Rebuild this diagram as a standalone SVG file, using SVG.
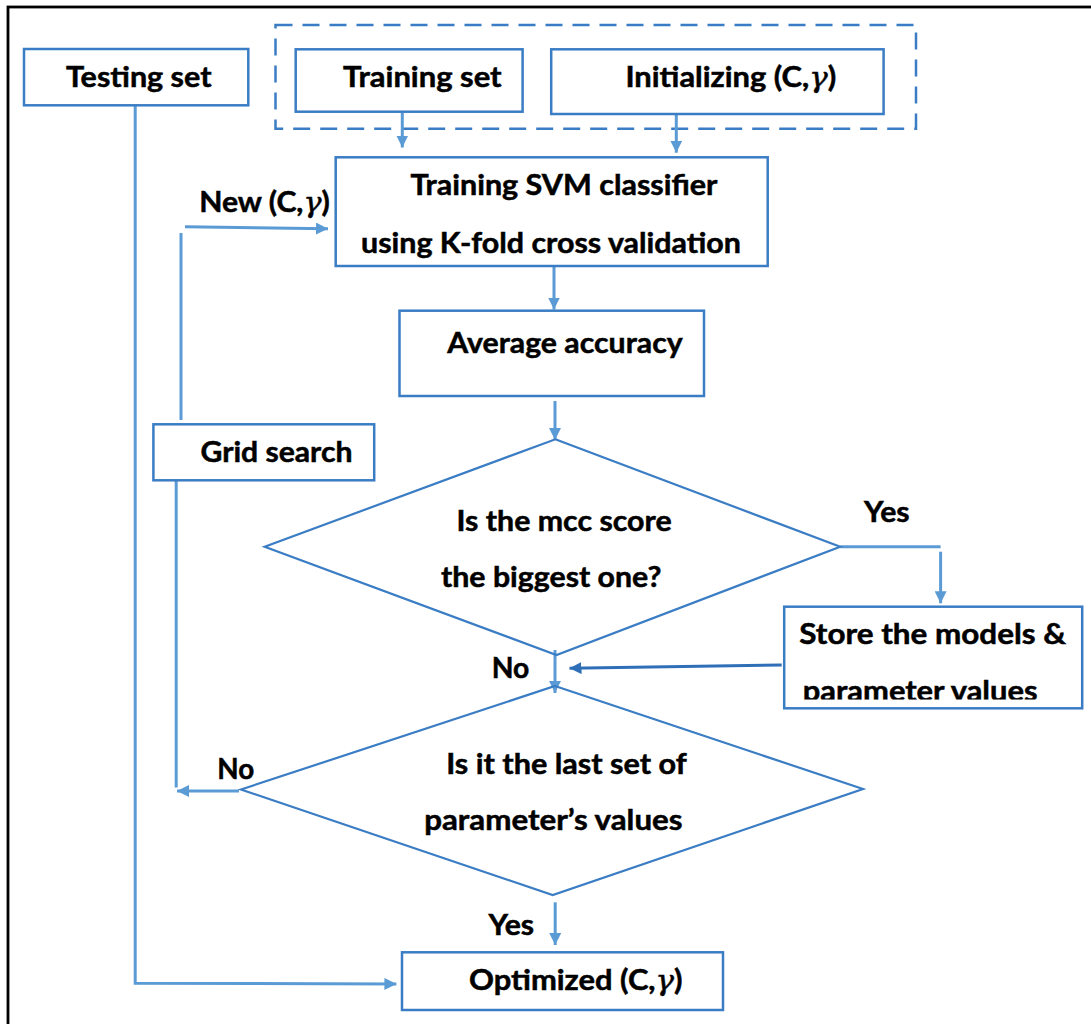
<svg xmlns="http://www.w3.org/2000/svg" width="1091" height="1024" viewBox="0 0 1091 1024">
  <style>
    .box { fill: #ffffff; stroke: #3B7DC4; stroke-width: 2.5; }
    .dia { fill: none; stroke: #3B7DC4; stroke-width: 2.2; stroke-linejoin: miter; }
    .grp { fill: none; stroke: #3B7DC4; stroke-width: 2.5; stroke-dasharray: 17 10; }
    .wire { fill: none; stroke: #5B9BD5; stroke-width: 3; }
    .wire-dark { fill: none; stroke: #2F6FB7; stroke-width: 3; }
    .t { font-family: "Lato", "Liberation Sans", sans-serif; font-weight: bold; font-size: 28.5px; fill: #000000; stroke: #000000; stroke-width: 0.5px; }
    .g { font-family: "DejaVu Serif", "Liberation Serif", serif; font-style: italic; font-weight: normal; }
  </style>
  <defs>
    <marker id="arr" viewBox="0 0 10 10" refX="10" refY="5" markerWidth="12" markerHeight="12" markerUnits="userSpaceOnUse" orient="auto">
      <path d="M0,0 L10,5 L0,10 Z" fill="#5B9BD5"/>
    </marker>
    <marker id="arr-dark" viewBox="0 0 10 10" refX="10" refY="5" markerWidth="12" markerHeight="12" markerUnits="userSpaceOnUse" orient="auto">
      <path d="M0,0 L10,5 L0,10 Z" fill="#2F6FB7"/>
    </marker>
    <clipPath id="storeClip">
      <rect x="784" y="607" width="298" height="92.5"/>
    </clipPath>
  </defs>

  <rect x="0" y="0" width="1091" height="1024" fill="#ffffff"/>
  <!-- page frame -->
  <rect x="8" y="7" width="1100" height="1040" fill="none" stroke="#000000" stroke-width="2.8"/>

  <!-- grouping frame around the training inputs -->
  <rect id="inputs-group" class="grp" x="275.5" y="25" width="640.5" height="103.7"/>

  <!-- connectors -->
  <g id="connectors">
    <path class="wire" d="M402.3,113 V147.5" marker-end="url(#arr)"/>
    <path class="wire" d="M676.3,114 V152.7" marker-end="url(#arr)"/>
    <path class="wire" d="M185,226.7 L328,228.7" marker-end="url(#arr)"/>
    <path class="wire" d="M181,233 V420"/>
    <path class="wire" d="M554,266 V309.5" marker-end="url(#arr)"/>
    <path class="wire" d="M555,401 V440" marker-end="url(#arr)"/>
    <path class="wire" d="M176.2,480 V787.5"/>
    <path class="wire" d="M239,791 L177,791" marker-end="url(#arr)"/>
    <path class="wire" d="M840.4,546.7 H940.6"/>
    <path class="wire" d="M940.6,551.7 V603.3" marker-end="url(#arr)"/>
    <path class="wire-dark" d="M781.7,665 L569.5,668.3" marker-end="url(#arr-dark)"/>
    <path class="wire" d="M555,650 V693" marker-end="url(#arr)"/>
    <path class="wire" d="M555.2,902.3 V945" marker-end="url(#arr)"/>
    <path class="wire" d="M135.2,105 V983.3 L396.4,984" marker-end="url(#arr)"/>
  </g>

  <g id="testing-set">
    <rect class="box" x="24" y="49" width="224.3" height="56.3"/>
    <text class="t" x="66" y="87.3" textLength="145.5" lengthAdjust="spacingAndGlyphs">Testing set</text>
  </g>

  <g id="training-set">
    <rect class="box" x="295.7" y="49.3" width="226.9" height="62.4"/>
    <text class="t" x="343" y="87.3" textLength="158.6" lengthAdjust="spacingAndGlyphs">Training set</text>
  </g>

  <g id="initializing">
    <rect class="box" x="551.2" y="49.3" width="332.4" height="64.7"/>
    <text class="t" x="625.4" y="87.3" textLength="210.8" lengthAdjust="spacingAndGlyphs">Initializing (C,<tspan class="g">γ</tspan>)</text>
  </g>

  <g id="training-svm">
    <rect class="box" x="335.7" y="157.3" width="432" height="108.7"/>
    <text class="t" x="410.4" y="194.5" textLength="307" lengthAdjust="spacingAndGlyphs">Training SVM classifier</text>
    <text class="t" x="361" y="253" textLength="380" lengthAdjust="spacingAndGlyphs">using K-fold cross validation</text>
  </g>

  <g id="new-params-label">
    <text class="t" x="199.2" y="212" textLength="130.5" lengthAdjust="spacingAndGlyphs">New (C,<tspan class="g">γ</tspan>)</text>
  </g>

  <g id="average-accuracy">
    <rect class="box" x="399.5" y="310.7" width="304.5" height="85.3"/>
    <text class="t" x="447.3" y="353" textLength="235.4" lengthAdjust="spacingAndGlyphs">Average accuracy</text>
  </g>

  <g id="grid-search">
    <rect class="box" x="153.4" y="424.3" width="220.8" height="56"/>
    <text class="t" x="200.5" y="462" textLength="151.9" lengthAdjust="spacingAndGlyphs">Grid search</text>
  </g>

  <g id="mcc-decision">
    <path class="dia" d="M555.3,439.3 L840.2,546.7 L556.5,655 L264.7,546.7 Z"/>
    <text class="t" x="456.5" y="530.5" textLength="215.1" lengthAdjust="spacingAndGlyphs">Is the mcc score</text>
    <text class="t" x="441" y="587" textLength="220.4" lengthAdjust="spacingAndGlyphs">the biggest one?</text>
  </g>

  <g id="yes-label-mcc">
    <text class="t" x="864" y="522" textLength="45.6" lengthAdjust="spacingAndGlyphs">Yes</text>
  </g>

  <g id="store-models">
    <rect class="box" x="784.2" y="606.7" width="298" height="101.6"/>
    <text class="t" x="799.3" y="643.5" textLength="266.7" lengthAdjust="spacingAndGlyphs">Store the models &amp;</text>
    <text class="t" x="802.8" y="701" textLength="234.7" lengthAdjust="spacingAndGlyphs" clip-path="url(#storeClip)">parameter values</text>
  </g>

  <g id="no-label-mcc">
    <text class="t" x="491.7" y="677.5" textLength="37.6" lengthAdjust="spacingAndGlyphs">No</text>
  </g>

  <g id="last-set-decision">
    <path class="dia" d="M555,686 L863,789 L552.7,895 L241,789.5 Z"/>
    <text class="t" x="446.2" y="773.5" textLength="240.5" lengthAdjust="spacingAndGlyphs">Is it the last set of</text>
    <text class="t" x="424.2" y="830" textLength="258.3" lengthAdjust="spacingAndGlyphs">parameter’s values</text>
  </g>

  <g id="no-label-last">
    <text class="t" x="217.3" y="779" textLength="36.9" lengthAdjust="spacingAndGlyphs">No</text>
  </g>

  <g id="yes-label-last">
    <text class="t" x="488.5" y="935" textLength="45.5" lengthAdjust="spacingAndGlyphs">Yes</text>
  </g>

  <g id="optimized">
    <rect class="box" x="402" y="952.3" width="321" height="57.7"/>
    <text class="t" x="469" y="989.5" textLength="213.5" lengthAdjust="spacingAndGlyphs">Optimized (C,<tspan class="g">γ</tspan>)</text>
  </g>
</svg>
